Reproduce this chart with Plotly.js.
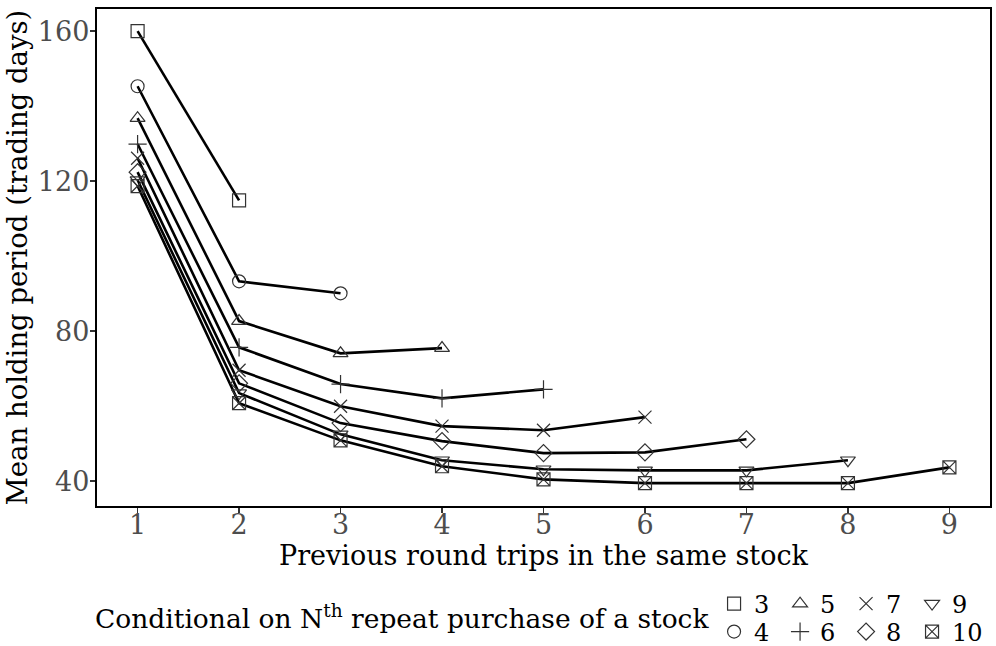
<!DOCTYPE html>
<html>
<head>
<meta charset="utf-8">
<script src="https://cdn.plot.ly/plotly-3.0.1.min.js"></script>
<style>html,body{margin:0;padding:0;background:#fff;}#chart{width:996px;height:646px;}</style>
</head>
<body>
<div id="chart"></div>
<script>
// Previous round trips (x)
const roundTrips = [1, 2, 3, 4, 5, 6, 7, 8, 9];
// Mean holding period for each "Nth repeat purchase" series
const series3  = [160.0, 114.9];
const series4  = [145.3, 93.3, 90.1];
const series5  = [136.8, 82.7, 74.1, 75.5];
const series6  = [129.9, 75.7, 65.9, 62.1, 64.5];
const series7  = [126.1, 69.6, 60.0, 54.7, 53.6, 57.1];
const series8  = [122.4, 66.1, 55.5, 50.7, 47.5, 47.7, 51.2];
const series9  = [120.3, 63.5, 52.5, 45.6, 43.2, 42.9, 42.9, 45.6];
const series10 = [118.7, 60.8, 50.9, 44.0, 40.5, 39.5, 39.5, 39.5, 43.7];
const seriesNames = ['3', '4', '5', '6', '7', '8', '9', '10'];
const xTickVals = [1, 2, 3, 4, 5, 6, 7, 8, 9];
const yTickVals = [40, 80, 120, 160];

const allSeries = [series3, series4, series5, series6, series7, series8, series9, series10];
const symbols = ['square-open', 'circle-open', 'triangle-up-open', 'cross-thin-open',
                 'x-thin-open', 'diamond-open', 'triangle-down-open', 'square-x-open'];
// legend rows: top row 3,5,7,9; bottom row 4,6,8 and 10 (own box so it is not clipped)
const legendIds = ['legend', 'legend2', 'legend', 'legend2', 'legend', 'legend2', 'legend', 'legend3'];

const FONT = 'DejaVu Serif';
const traces = [];
allSeries.forEach((vals, i) => {
  traces.push({
    x: roundTrips.slice(0, vals.length), y: vals,
    type: 'scatter', mode: 'lines',
    line: {color: '#000', width: 2.6},
    showlegend: false, hoverinfo: 'skip'
  });
});
allSeries.forEach((vals, i) => {
  traces.push({
    x: roundTrips.slice(0, vals.length), y: vals,
    type: 'scatter', mode: 'markers', name: seriesNames[i],
    legend: legendIds[i],
    marker: {symbol: symbols[i], size: 13, color: '#333', line: {color: '#333', width: 1.2}}
  });
});

const legendCommon = {
  orientation: 'h', xanchor: 'left', yanchor: 'middle',
  font: {family: FONT, size: 24, color: '#000'},
  bgcolor: 'rgba(0,0,0,0)', borderwidth: 0,
  entrywidth: 21, entrywidthmode: 'pixels', itemwidth: 30,
  traceorder: 'normal'
};

const layout = {
  width: 996, height: 646,
  margin: {l: 97, r: 6, t: 9, b: 140, autoexpand: false},
  paper_bgcolor: '#fff', plot_bgcolor: '#fff',
  font: {family: FONT, color: '#000'},
  showlegend: true,
  xaxis: {
    range: [0.6, 9.4], tickvals: xTickVals, ticktext: xTickVals.map(String),
    ticks: 'outside', ticklen: 5, tickwidth: 1.5, tickcolor: '#333',
    ticklabelstandoff: -12,
    tickfont: {family: FONT, size: 27, color: '#4d4d4d'},
    showgrid: false, zeroline: false,
    showline: true, linecolor: '#000', linewidth: 2.2, mirror: true,
    title: {text: 'Previous round trips in the same stock', font: {family: FONT, size: 27, color: '#000'}, standoff: 1}
  },
  yaxis: {
    range: [33.4, 165.9], tickvals: yTickVals, ticktext: yTickVals.map(String),
    ticks: 'outside', ticklen: 5, tickwidth: 1.5, tickcolor: '#333',
    ticklabelstandoff: -5,
    tickfont: {family: FONT, size: 27, color: '#4d4d4d'},
    showgrid: false, zeroline: false,
    showline: true, linecolor: '#000', linewidth: 2.2, mirror: true,
    title: {text: 'Mean holding period (trading days)', font: {family: FONT, size: 27.5, color: '#000'}, standoff: 2}
  },
  legend: Object.assign({}, legendCommon, {x: 0.691, y: -0.1972}),
  legend2: Object.assign({}, legendCommon, {x: 0.691, y: -0.2535}),
  legend3: Object.assign({}, legendCommon, {x: 0.9127, y: -0.2535}),
  annotations: [{
    xref: 'paper', yref: 'paper', x: -0.005, y: -0.2233,
    xanchor: 'left', yanchor: 'middle', showarrow: false,
    text: 'Conditional on N<sup>th</sup> repeat purchase of a stock',
    font: {family: FONT, size: 26.5, color: '#000'}
  }]
};
delete layout.legend3.entrywidth;
delete layout.legend3.entrywidthmode;

Plotly.newPlot('chart', traces, layout, {displayModeBar: false, staticPlot: true});
</script>
</body>
</html>
